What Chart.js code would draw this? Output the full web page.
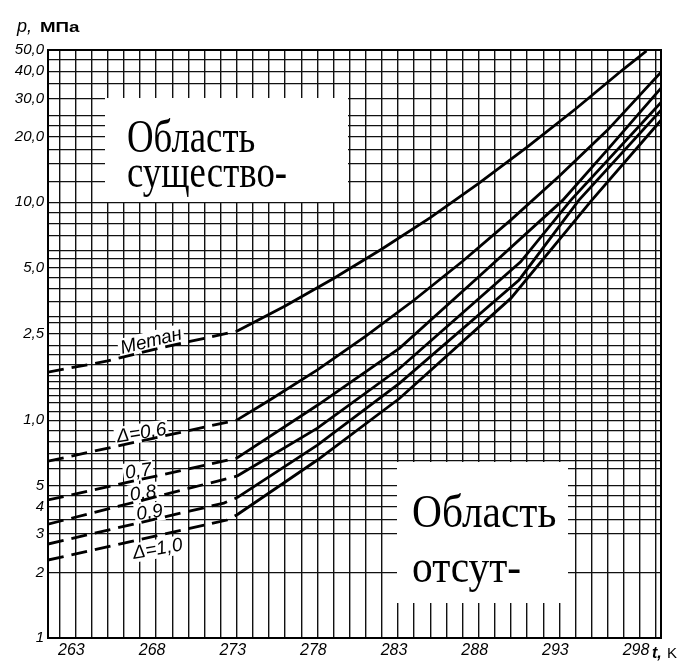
<!DOCTYPE html>
<html>
<head>
<meta charset="utf-8">
<script src="https://cdn.jsdelivr.net/npm/chart.js@4"></script>
<style>
  html, body { margin: 0; padding: 0; background: #fff; }
</style>
</head>
<body>
<canvas id="hydrateChart" width="683" height="664"></canvas>
<script>
// hydrate formation curves, T in K, p in MPa
const methaneT = [261.3, 265.0, 268.2, 273.0, 276.0, 279.0, 282.0, 285.0, 288.0, 291.0, 294.0, 297.0, 298.4];
const methaneP = [1.66, 1.87, 2.14, 2.56, 3.34, 4.47, 6.1, 8.5, 12.2, 17.9, 26.8, 41.0, 49.5];

const delta06T = [261.3, 273.0, 275.0, 278.0, 281.0, 284.0, 287.0, 290.0, 293.0, 296.0, 299.3];
const delta06P = [0.648, 1.0, 1.23, 1.70, 2.43, 3.56, 5.36, 8.3, 13.2, 21.5, 39.5];

const delta07T = [261.3, 273.0, 278.0, 283.1, 288.0, 293.2, 296.0, 299.3];
const delta07P = [0.43, 0.669, 1.17, 2.14, 4.55, 10.2, 17.5, 33.4];

const delta08T = [261.3, 273.0, 278.0, 283.1, 290.6, 293.7, 299.3];
const delta08P = [0.333, 0.553, 0.919, 1.73, 5.33, 10.2, 28.7];

const delta09T = [261.3, 272.2, 273.0, 278.0, 283.1, 290.5, 294.2, 299.3];
const delta09P = [0.27, 0.416, 0.44, 0.768, 1.48, 4.4, 10.2, 26.5];

const delta10T = [261.3, 272.4, 273.0, 278.0, 283.1, 290.0, 295.0, 299.3];
const delta10P = [0.228, 0.348, 0.367, 0.656, 1.26, 3.63, 10.2, 23.8];

// axes
const xLabelValues = [263, 268, 273, 278, 283, 288, 293, 298];
const yLabelValues = [50, 40, 30, 20, 10, 5, 2.5, 1, 0.5, 0.4, 0.3, 0.2, 0.1];
const yLabelTexts = ['50,0', '40,0', '30,0', '20,0', '10,0', '5,0', '2,5', '1,0', '5', '4', '3', '2', '1'];
const yGridValues = [0.1, 0.2, 0.3, 0.35, 0.4, 0.45, 0.5, 0.6, 0.65, 0.7, 0.8, 0.9, 1.0,
  1.1, 1.2, 1.3, 1.4, 1.5, 1.6, 1.8, 2.0, 2.2, 2.5, 2.8, 3.0, 3.5, 4.0, 4.5, 5.0, 5.5, 6.0, 7.0, 8.0, 9.0,
  10, 12.5, 15, 17.5, 20, 22.5, 25, 30, 35, 40, 45, 50];

// curve captions
const captionTexts = ['Метан', 'Δ=0,6', '0,7', '0,8', '0,9', 'Δ=1,0'];
const captionT = [267.7, 267.1, 266.9, 267.2, 267.6, 268.1];
const captionP = [2.30, 0.87, 0.58, 0.46, 0.375, 0.255];
const captionAngle = [-14, -9, -8, -8, -8, -10];

const toPoints = (ts, ps) => ts.map((t, i) => ({ x: t, y: ps[i] }));

const curve = (label, ts, ps) => ({
  label: label,
  data: toPoints(ts, ps),
  borderColor: '#000',
  borderWidth: 2.8,
  pointRadius: 0,
  tension: 0,
  fill: false,
  segment: {
    borderDash: c => c.p1.parsed.x <= 273 ? [16, 8] : []
  }
});

function squeezedText(ctx, text, x, y, sx) {
  ctx.save();
  ctx.translate(x, y);
  ctx.scale(sx, 1);
  ctx.fillText(text, 0, 0);
  ctx.restore();
}

const decor = {
  id: 'decor',
  beforeDatasetsDraw(chart) {
    const { ctx, scales: { x, y } } = chart;
    ctx.save();
    ctx.fillStyle = '#fff';
    ctx.fillRect(105, 98, 243, 104);
    ctx.fillRect(397, 462, 171, 141);

    ctx.fillStyle = '#000';
    ctx.font = '46px "Liberation Serif"';
    ctx.textBaseline = 'alphabetic';
    squeezedText(ctx, 'Область', 127, 152, 0.8);
    squeezedText(ctx, 'существо-', 127, 187, 0.8);
    squeezedText(ctx, 'Область', 412, 527, 0.9);
    squeezedText(ctx, 'отсут-', 412, 582, 0.9);

    ctx.font = 'italic 19px "Liberation Sans"';
    ctx.textAlign = 'center';
    ctx.textBaseline = 'middle';
    captionTexts.forEach((txt, i) => {
      const px = x.getPixelForValue(captionT[i]);
      const py = y.getPixelForValue(captionP[i]);
      ctx.save();
      ctx.translate(px, py);
      ctx.rotate(captionAngle[i] * Math.PI / 180);
      const w = ctx.measureText(txt).width;
      ctx.fillStyle = '#fff';
      ctx.fillRect(-w / 2 - 2, -10, w + 4, 19);
      ctx.fillStyle = '#000';
      ctx.fillText(txt, 0, 0);
      ctx.restore();
    });
    ctx.restore();
  },
  afterDraw(chart) {
    const { ctx, chartArea: a } = chart;
    ctx.save();
    ctx.strokeStyle = '#000';
    ctx.lineWidth = 2;
    ctx.strokeRect(a.left, a.top, a.right - a.left, a.bottom - a.top);

    ctx.fillStyle = '#000';
    ctx.textBaseline = 'alphabetic';
    ctx.font = 'italic 18px "Liberation Sans"';
    ctx.fillText('p,', 17, 32);
    ctx.font = 'bold 15px "Liberation Sans"';
    squeezedText(ctx, 'МПа', 40, 32, 1.25);

    ctx.font = 'italic bold 16px "Liberation Sans"';
    ctx.fillText('t,', 652, 658);
    ctx.font = '15px "Liberation Sans"';
    ctx.fillText('K', 667, 658);
    ctx.restore();
  }
};

new Chart(document.getElementById('hydrateChart').getContext('2d'), {
  type: 'line',
  data: {
    datasets: [
      curve('Метан', methaneT, methaneP),
      curve('Δ=0,6', delta06T, delta06P),
      curve('Δ=0,7', delta07T, delta07P),
      curve('Δ=0,8', delta08T, delta08P),
      curve('Δ=0,9', delta09T, delta09P),
      curve('Δ=1,0', delta10T, delta10P)
    ]
  },
  options: {
    responsive: false,
    animation: false,
    devicePixelRatio: 1,
    layout: { padding: { top: 50, right: 22, left: 0, bottom: 0 } },
    plugins: {
      legend: { display: false },
      tooltip: { enabled: false }
    },
    scales: {
      x: {
        type: 'linear',
        min: 261.3,
        max: 299.3,
        afterBuildTicks: axis => {
          const ticks = [];
          for (let t = 262; t <= 299; t++) ticks.push({ value: t });
          axis.ticks = ticks;
        },
        afterFit: axis => { axis.height = 26; },
        grid: { color: '#111', lineWidth: 1.4, drawTicks: false },
        border: { display: true, color: '#000', width: 2 },
        ticks: {
          autoSkip: false,
          maxRotation: 0,
          padding: 3,
          labelOffset: -4,
          color: '#000',
          font: { family: 'Liberation Sans', size: 16, style: 'italic' },
          callback: v => xLabelValues.includes(v) ? String(v) : ''
        }
      },
      y: {
        type: 'logarithmic',
        min: 0.1,
        max: 50,
        afterBuildTicks: axis => {
          axis.ticks = yGridValues.map(v => ({ value: v }));
        },
        afterFit: axis => { axis.width = 48; },
        grid: { color: '#111', lineWidth: 1.2, drawTicks: false },
        border: { display: true, color: '#000', width: 2 },
        ticks: {
          autoSkip: false,
          padding: 4,
          color: '#000',
          font: { family: 'Liberation Sans', size: 15, style: 'italic' },
          callback: v => {
            const i = yLabelValues.indexOf(v);
            return i >= 0 ? yLabelTexts[i] : '';
          }
        }
      }
    }
  },
  plugins: [decor]
});
</script>
</body>
</html>
